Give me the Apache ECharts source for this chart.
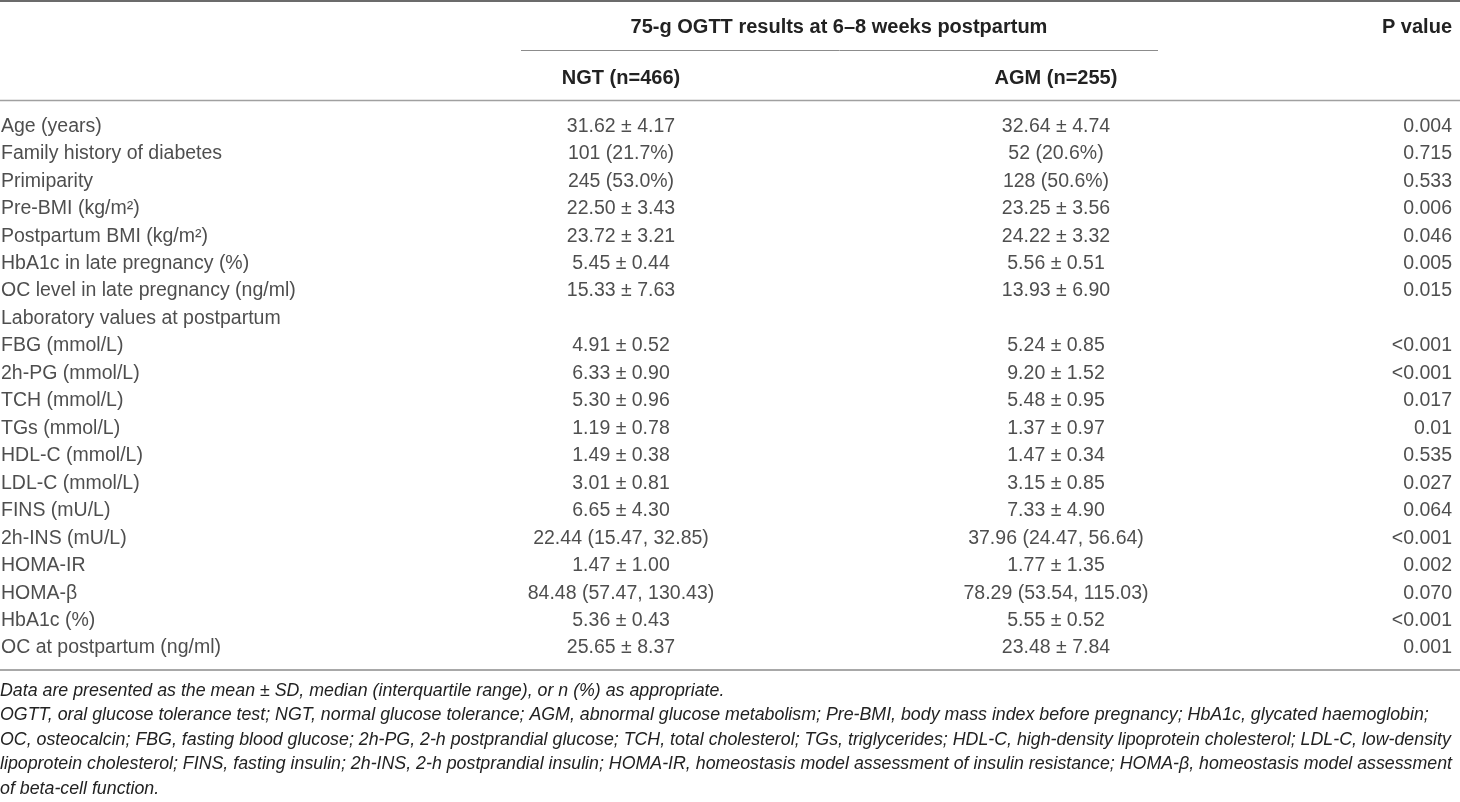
<!DOCTYPE html>
<html>
<head>
<meta charset="utf-8">
<title>Postpartum OGTT table</title>
<script src="https://cdn.jsdelivr.net/npm/echarts@6/dist/echarts.min.js"></script>
<style>
    html, body {
        margin: 0;
        padding: 0;
        background: #ffffff;
    }
    #main {
        width: 1460px;
        height: 802px;
    }
</style>
</head>
<body>
<div id="main"></div>
<script>
    var rowLabels = [
        'Age (years)', 'Family history of diabetes', 'Primiparity', 'Pre-BMI (kg/m²)',
        'Postpartum BMI (kg/m²)', 'HbA1c in late pregnancy (%)', 'OC level in late pregnancy (ng/ml)',
        'Laboratory values at postpartum', 'FBG (mmol/L)', '2h-PG (mmol/L)', 'TCH (mmol/L)',
        'TGs (mmol/L)', 'HDL-C (mmol/L)', 'LDL-C (mmol/L)', 'FINS (mU/L)', '2h-INS (mU/L)',
        'HOMA-IR', 'HOMA-β', 'HbA1c (%)', 'OC at postpartum (ng/ml)'
    ];
    var ngtValues = [
        '31.62 ± 4.17', '101 (21.7%)', '245 (53.0%)', '22.50 ± 3.43', '23.72 ± 3.21',
        '5.45 ± 0.44', '15.33 ± 7.63', '', '4.91 ± 0.52', '6.33 ± 0.90', '5.30 ± 0.96',
        '1.19 ± 0.78', '1.49 ± 0.38', '3.01 ± 0.81', '6.65 ± 4.30', '22.44 (15.47, 32.85)',
        '1.47 ± 1.00', '84.48 (57.47, 130.43)', '5.36 ± 0.43', '25.65 ± 8.37'
    ];
    var agmValues = [
        '32.64 ± 4.74', '52 (20.6%)', '128 (50.6%)', '23.25 ± 3.56', '24.22 ± 3.32',
        '5.56 ± 0.51', '13.93 ± 6.90', '', '5.24 ± 0.85', '9.20 ± 1.52', '5.48 ± 0.95',
        '1.37 ± 0.97', '1.47 ± 0.34', '3.15 ± 0.85', '7.33 ± 4.90', '37.96 (24.47, 56.64)',
        '1.77 ± 1.35', '78.29 (53.54, 115.03)', '5.55 ± 0.52', '23.48 ± 7.84'
    ];
    var pValues = [
        '0.004', '0.715', '0.533', '0.006', '0.046', '0.005', '0.015', '', '<0.001', '<0.001',
        '0.017', '0.01', '0.535', '0.027', '0.064', '<0.001', '0.002', '0.070', '<0.001', '0.001'
    ];
    var groupTitle = '75-g OGTT results at 6–8 weeks postpartum';
    var columnTitles = ['NGT (n=466)', 'AGM (n=255)'];
    var pTitle = 'P value';
    var footnotes = [
        'Data are presented as the mean ± SD, median (interquartile range), or n (%) as appropriate.',
        'OGTT, oral glucose tolerance test; NGT, normal glucose tolerance; AGM, abnormal glucose metabolism; Pre-BMI, body mass index before pregnancy; HbA1c, glycated haemoglobin;',
        'OC, osteocalcin; FBG, fasting blood glucose; 2h-PG, 2-h postprandial glucose; TCH, total cholesterol; TGs, triglycerides; HDL-C, high-density lipoprotein cholesterol; LDL-C, low-density',
        'lipoprotein cholesterol; FINS, fasting insulin; 2h-INS, 2-h postprandial insulin; HOMA-IR, homeostasis model assessment of insulin resistance; HOMA-β, homeostasis model assessment',
        'of beta-cell function.'
    ];

    var myChart = echarts.init(document.getElementById('main'));

    var font = '"Liberation Sans", Arial, sans-serif';
    var textColor = '#222222';
    // column anchors in x-axis units (axis runs 0..1460 across the page)
    var colX = {label: 1, ngt: 621, agm: 1056, p: 1452};

    function cells(values, x) {
        var out = [];
        values.forEach(function (v, i) {
            if (v !== '') {
                out.push({value: [x, i], text: v});
            }
        });
        return out;
    }

    function cellSeries(values, x, position) {
        return {
            type: 'scatter',
            symbolSize: 0,
            silent: true,
            data: cells(values, x),
            label: {
                show: true,
                position: position,
                distance: 0,
                formatter: function (p) {
                    return p.data.text;
                },
                color: textColor,
                fontFamily: font,
                fontSize: 19.5
            }
        };
    }

    function headText(text, x, y, align) {
        return {
            type: 'text',
            x: x,
            y: y,
            style: {
                text: text,
                align: align,
                verticalAlign: 'middle',
                fill: textColor,
                fontFamily: font,
                fontSize: 20,
                fontWeight: 'bold'
            }
        };
    }

    function rule(x1, x2, y, color, width) {
        return {
            type: 'line',
            shape: {x1: x1, y1: y, x2: x2, y2: y},
            style: {stroke: color, lineWidth: width}
        };
    }

    var graphics = [
        rule(0, 1460, 1, '#6b6b6b', 2),
        rule(521, 1158, 50.5, '#8c8c8c', 1),
        rule(0, 1460, 100.5, '#a0a0a0', 1.5),
        rule(0, 1460, 670, '#a8a8a8', 2),
        headText(groupTitle, 839, 27, 'center'),
        headText(pTitle, colX.p, 27, 'right'),
        headText(columnTitles[0], colX.ngt, 78, 'center'),
        headText(columnTitles[1], colX.agm, 78, 'center')
    ];
    footnotes.forEach(function (line, i) {
        graphics.push({
            type: 'text',
            x: 0,
            y: 691 + i * 24.4,
            style: {
                text: line,
                align: 'left',
                verticalAlign: 'middle',
                fill: textColor,
                fontFamily: font,
                fontSize: 17.8,
                fontStyle: 'italic'
            }
        });
    });

    var option = {
        animation: false,
        grid: {left: 0, right: 0, top: 112.6, bottom: 140.2},
        xAxis: {type: 'value', min: 0, max: 1460, show: false},
        yAxis: {type: 'category', data: rowLabels, inverse: true, show: false},
        series: [
            cellSeries(rowLabels, colX.label, 'right'),
            cellSeries(ngtValues, colX.ngt, 'inside'),
            cellSeries(agmValues, colX.agm, 'inside'),
            cellSeries(pValues, colX.p, 'left')
        ],
        graphic: graphics
    };

    myChart.setOption(option);
</script>
</body>
</html>
